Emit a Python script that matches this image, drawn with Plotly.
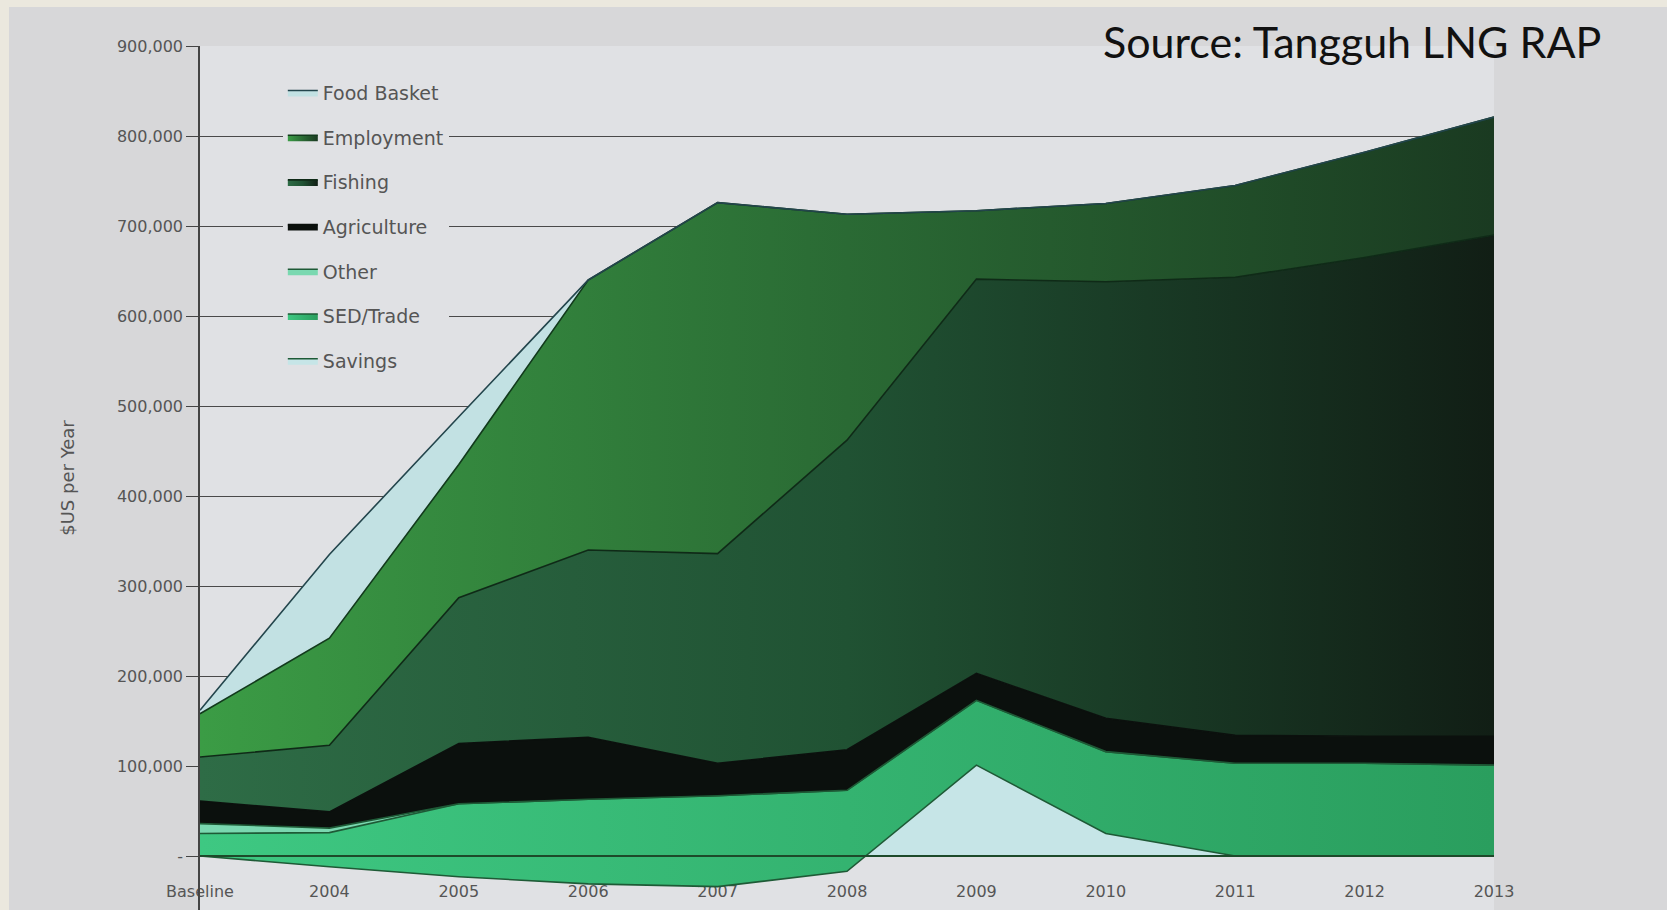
import plotly.graph_objects as go

# ---- data (US$ per year) ----
categories = ["Baseline", "2004", "2005", "2006", "2007", "2008", "2009", "2010", "2011", "2012", "2013"]
savings      = [0, -12000, -23000, -31000, -34000, -17000, 101000, 25000, 0, 0, 0]
sed_trade    = [25000, 38000, 81000, 94000, 101000, 90000, 72000, 91000, 103000, 103000, 101000]
other        = [11000, 5000, 0, 0, 0, 0, 0, 0, 0, 0, 0]
agriculture  = [25000, 18000, 67000, 69000, 36000, 45000, 30000, 37000, 31000, 30000, 32000]
fishing      = [49000, 74000, 162000, 208000, 233000, 344000, 438000, 485000, 509000, 532000, 557000]
employment   = [48000, 119000, 148000, 300000, 390000, 251000, 76000, 87000, 102000, 117000, 131000]
food_basket  = [4000, 93000, 53000, 0, 0, 0, 0, 0, 0, 0, 0]

y_tickvals = [0, 100000, 200000, 300000, 400000, 500000, 600000, 700000, 800000, 900000]
y_ticktext = ["-", "100,000", "200,000", "300,000", "400,000", "500,000",
              "600,000", "700,000", "800,000", "900,000"]

series = [
    ("Savings", savings, dict(color="#c6e5e7"), "#1e5a36"),
    ("SED/Trade", sed_trade, dict(grad=["#3ec882", "#2a9e5e"]), "#1e5a36"),
    ("Other", other, dict(color="#7ad8b0"), "#1e5a36"),
    ("Agriculture", agriculture, dict(color="#0b100d"), "#0b100d"),
    ("Fishing", fishing, dict(grad=["#2e6c46", "#205233", "#111e15"]), "#0f2a17"),
    ("Employment", employment, dict(grad=["#3b9c45", "#2a6a34", "#1a3a21"]), "#123a1c"),
    ("Food Basket", food_basket, dict(color="#c2e1e3"), "#23454c"),
]

fig = go.Figure()
for i, (name, vals, fillspec, lc) in enumerate(series):
    kw = dict(
        x=categories, y=vals, name=name, mode="lines",
        stackgroup="one", legendgroup=f"g{i}", legendrank=100 - i,
        line=dict(color=lc, width=1.6),
    )
    if "grad" in fillspec:
        g = fillspec["grad"]
        cs = [[k / (len(g) - 1), c] for k, c in enumerate(g)]
        kw["fillgradient"] = dict(type="horizontal", colorscale=cs)
        kw["fillcolor"] = g[0]
    else:
        kw["fillcolor"] = fillspec["color"]
    fig.add_trace(go.Scatter(**kw))

# baseline (zero) line drawn over the areas
fig.add_shape(type="line", xref="paper", yref="y", x0=0, x1=1, y0=0, y1=0,
              line=dict(color="#1d4a2a", width=2), layer="above")

# beige photo border strips
fig.add_shape(type="rect", xref="paper", yref="paper", x0=-0.16, x1=1.14, y0=1.045, y1=1.06,
              fillcolor="#ebe8de", line_width=0, layer="below")
fig.add_shape(type="rect", xref="paper", yref="paper", x0=-0.16, x1=-0.1476, y0=-0.01, y1=1.06,
              fillcolor="#ebe8de", line_width=0, layer="below")

fig.add_annotation(text="Source: Tangguh LNG RAP", xref="paper", yref="paper",
                   x=1.0842, y=1.005, xanchor="right", yanchor="middle", showarrow=False,
                   font=dict(family="Lato", size=43, color="#111111"))

fig.update_layout(
    width=1667, height=910,
    margin=dict(l=200, r=173, t=46, b=0),
    paper_bgcolor="#d7d7d9",
    plot_bgcolor="#e0e1e4",
    font=dict(family="DejaVu Sans", color="#555555"),
    showlegend=True,
    legend=dict(
        x=0.064, y=0.968, xanchor="left", yanchor="top",
        traceorder="grouped", tracegroupgap=17,
        bgcolor="#e0e1e4", borderwidth=0,
        font=dict(family="DejaVu Sans", size=19, color="#555555"),
        itemwidth=30,
    ),
    xaxis=dict(
        type="category", range=[0, 10], showgrid=False, zeroline=False,
        showline=False, ticks="inside", ticklen=10, tickcolor="rgba(0,0,0,0)",
        ticklabelposition="inside",
        ticklabeloverflow="allow", layer="below traces",
        tickfont=dict(family="DejaVu Sans", size=16, color="#555555"),
    ),
    yaxis=dict(
        range=[-60000, 900000], tickvals=y_tickvals, ticktext=y_ticktext,
        showgrid=True, gridcolor="#4a4a4a", gridwidth=1.4, zeroline=False,
        showline=True, linecolor="#444444", linewidth=1.5,
        ticks="outside", ticklen=12, tickcolor="#444444",
        tickfont=dict(family="DejaVu Sans", size=16, color="#555555"),
        title=dict(text="$US per Year", standoff=38,
                   font=dict(family="DejaVu Sans", size=18, color="#555555")),
    ),
)

fig.write_html("out.html")
